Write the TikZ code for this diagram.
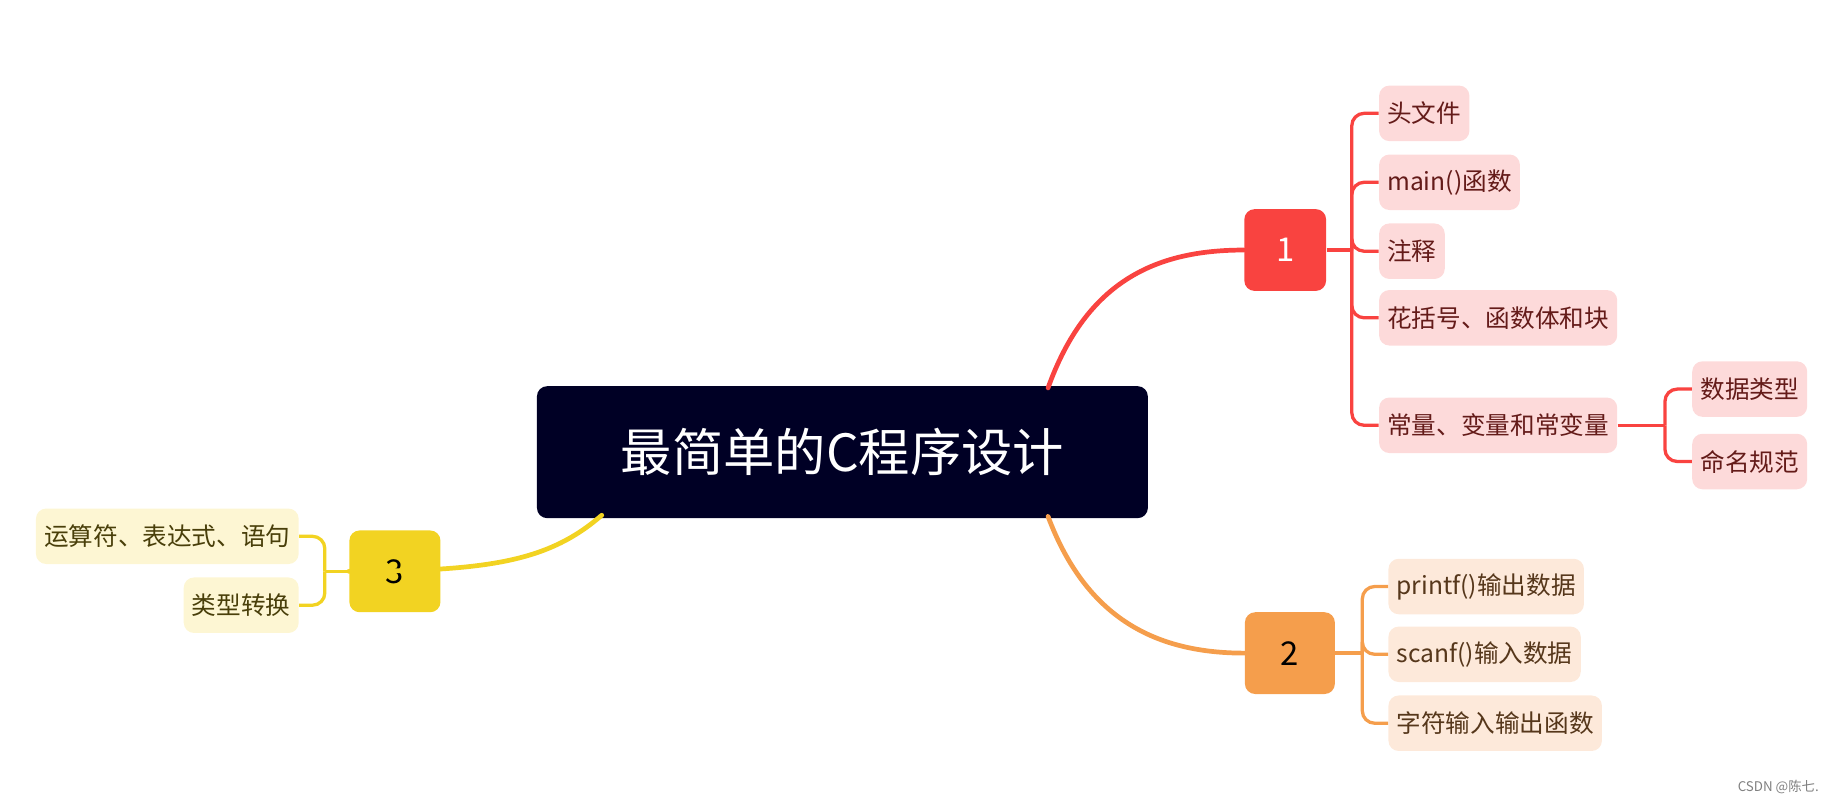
\documentclass[tikz,border=0pt]{standalone}
\usepackage{fontspec}
\setmainfont{Noto Sans CJK SC}
\usetikzlibrary{positioning}
\definecolor{navy}{HTML}{000025}
\definecolor{red1}{HTML}{F94340}
\definecolor{orange2}{HTML}{F59E4C}
\definecolor{yellow3}{HTML}{F2D322}
\definecolor{pink1}{HTML}{FDDADA}
\definecolor{peach2}{HTML}{FDE9DA}
\definecolor{cream3}{HTML}{FDF6D3}
\tikzset{
  topic/.style={rounded corners=5pt, minimum width=1.4cm, minimum height=1.4cm, font=\fontsize{16}{18}\selectfont},
  leaf/.style={rounded corners=5pt, minimum height=0.95cm, inner xsep=4pt, font=\fontsize{12}{14}\selectfont},
  branch/.style={line width=2.3pt, line cap=round},
  twig/.style={line width=1.6pt, rounded corners=6pt}
}
\begin{document}
\begin{tikzpicture}[x=0.02cm, y=-0.02cm]
        \useasboundingbox (0,0) rectangle (1568,687);
        \node[fill=navy, text=white, rounded corners=5pt, minimum width=10.46cm, minimum height=2.26cm,
              font=\fontsize{25}{28}\selectfont] (root) at (721,387) {最简单的C程序设计};
        \node[topic, fill=red1, text=white]  (n1) at (1100,214) {1};
        \node[topic, fill=orange2, minimum width=1.54cm] (n2) at (1104,559) {2};
        \node[topic, fill=yellow3, minimum width=1.56cm] (n3) at (338,489) {3};

        % children of 1
        \node[leaf, fill=pink1, text=red1!40!black, anchor=west] (a1) at (1180,97)  {头文件};
        \node[leaf, fill=pink1, text=red1!40!black, anchor=west] (a2) at (1180,156) {main()函数};
        \node[leaf, fill=pink1, text=red1!40!black, anchor=west] (a3) at (1180,215) {注释};
        \node[leaf, fill=pink1, text=red1!40!black, anchor=west] (a4) at (1180,272) {花括号、函数体和块};
        \node[leaf, fill=pink1, text=red1!40!black, anchor=west] (a5) at (1180,364) {常量、变量和常变量};
        \node[leaf, fill=pink1, text=red1!40!black, anchor=west] (b1) at (1448,333) {数据类型};
        \node[leaf, fill=pink1, text=red1!40!black, anchor=west] (b2) at (1448,395) {命名规范};

        % children of 2
        \node[leaf, fill=peach2, text=orange2!35!black, anchor=west] (c1) at (1188,502) {printf()输出数据};
        \node[leaf, fill=peach2, text=orange2!35!black, anchor=west] (c2) at (1188,560) {scanf()输入数据};
        \node[leaf, fill=peach2, text=orange2!35!black, anchor=west] (c3) at (1188,619) {字符输入输出函数};

        % children of 3
        \node[leaf, fill=cream3, text=yellow3!30!black, anchor=east] (d1) at (256,459) {运算符、表达式、语句};
        \node[leaf, fill=cream3, text=yellow3!30!black, anchor=east] (d2) at (256,518) {类型转换};

        \node[text=gray, font=\fontsize{6.5}{8}\selectfont] (mark) at (1522,674) {CSDN @陈七.};

        \coordinate (r1) at (897,332);
        \coordinate (r2) at (897,442);
        \coordinate (r3) at (515,441);
        \coordinate (j1) at (1157,214);
        \coordinate (j2) at (1166,559);
        \coordinate (j3) at (278,489);
        \coordinate (j5) at (1425,364);

        \draw[branch, red1] (r1) .. controls (930,240) and (990,214) .. (n1.west);
        \draw[branch, orange2] (r2) .. controls (930,530) and (990,559) .. (n2.west);
        \draw[branch, yellow3] (r3) .. controls (470,480) and (420,489) .. (n3.west);

        \draw[twig, red1] (n1.east) -- (j1);
        \foreach \c in {a1,a2,a3,a4,a5} \draw[twig, red1] (j1) |- (\c.west);
        \draw[twig, red1] (a5.east) -- (j5);
        \foreach \c in {b1,b2} \draw[twig, red1] (j5) |- (\c.west);
        \draw[twig, orange2] (n2.east) -- (j2);
        \foreach \c in {c1,c2,c3} \draw[twig, orange2] (j2) |- (\c.west);
        \draw[twig, yellow3] (n3.west) -- (j3);
        \foreach \c in {d1,d2} \draw[twig, yellow3] (j3) |- (\c.east);
\end{tikzpicture}
\end{document}
